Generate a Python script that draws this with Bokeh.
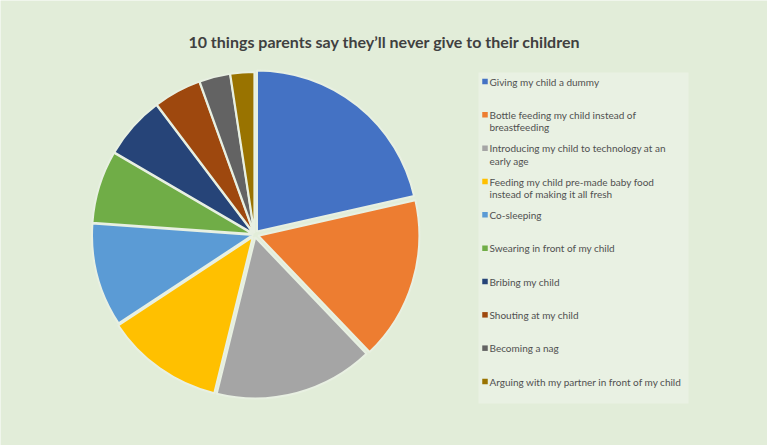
import math
from bokeh.plotting import figure
from bokeh.models import ColumnDataSource
from bokeh.core.properties import value
from bokeh.embed import file_html
from bokeh.resources import INLINE

title = "10 things parents say they\u2019ll never give to their children"
labels = [
    "Giving my child a dummy",
    "Bottle feeding my child instead of\nbreastfeeding",
    "Introducing my child to technology at an\nearly age",
    "Feeding my child pre-made baby food\ninstead of making it all fresh",
    "Co-sleeping",
    "Swearing in front of my child",
    "Bribing my child",
    " Shouting at my child",
    "Becoming a nag",
    "Arguing with my partner in front of my child",
]
shares = [21.5, 16.4, 16.0, 11.9, 10.4, 7.3, 6.3, 4.8, 3.1, 2.4]
colors = ["#4472C4", "#ED7D31", "#A5A5A5", "#FFC000", "#5B9BD5",
          "#70AD47", "#264478", "#9E480E", "#636363", "#997300"]

W, H = 767, 445
BG = "#e2edd9"
LEG_BG = "#e9f1e3"

p = figure(width=W, height=H, x_range=(0, W), y_range=(0, H),
           output_backend="svg", toolbar_location=None,
           x_axis_location=None, y_axis_location=None, min_border=0)
p.grid.visible = False
p.outline_line_color = None
p.background_fill_color = BG
p.border_fill_color = BG

# pie
cx, cy, r = 254, H - 234, 161
explode = [4, 4, 3, 3, 1.5, 1.5, 1.5, 1.5, 1.5, 1.5]
total = sum(shares)
xs, ys, sa, ea = [], [], [], []
acc = 0.0
for s, ex in zip(shares, explode):
    t0 = acc / total * 2 * math.pi
    acc += s
    t1 = acc / total * 2 * math.pi
    tm = (t0 + t1) / 2
    xs.append(cx + ex * math.sin(tm))
    ys.append(cy + ex * math.cos(tm))
    sa.append(math.pi / 2 - t0)
    ea.append(math.pi / 2 - t1)
src = ColumnDataSource(dict(x=xs, y=ys, start=sa, end=ea, color=colors))
p.wedge(x="x", y="y", radius=r, start_angle="start", end_angle="end",
        direction="clock", fill_color="color", line_color="#e8f0e2", line_width=2,
        source=src)

# title
p.text(x=[384], y=[H - 41], text=[title], text_font=value("Lato"),
       text_font_style="bold", text_font_size="16px", text_color="#404040",
       text_align="center", text_baseline="middle")

# legend box
lx0, lx1, ly0, ly1 = 478, 688, 72, 403
p.quad(left=[lx0], right=[lx1], top=[H - ly0], bottom=[H - ly1],
       fill_color=LEG_BG, line_color=None)

step = (381 - 81) / 9
mk_x, mk_y, tx, ty, tt = [], [], [], [], []
for i, lab in enumerate(labels):
    y0 = 81 + i * step
    mk_x.append(484.5)
    mk_y.append(H - y0)
    for j, line in enumerate(lab.split("\n")):
        tx.append(489)
        ty.append(H - (y0 + j * 12.5))
        tt.append(line)
p.rect(x=mk_x, y=mk_y, width=5.5, height=5.5, fill_color=colors, line_color=None)
p.text(x=tx, y=ty, text=tt, text_font=value("Lato"), text_font_size="10px",
       text_color="#505050", text_align="left", text_baseline="middle")

open("out.html", "w").write(file_html(p, INLINE))
